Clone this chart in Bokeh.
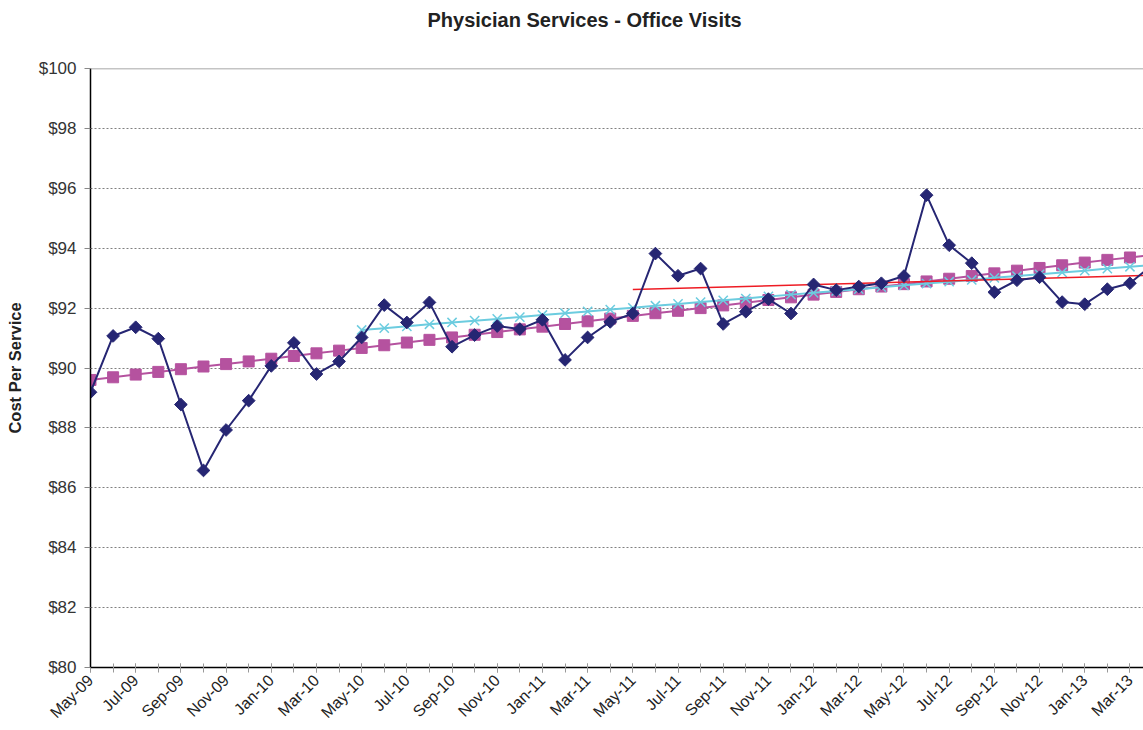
import math
from bokeh.plotting import figure
from bokeh.models import Range1d, FixedTicker, Span, Title
from bokeh.embed import file_html
from bokeh.resources import INLINE

months = ["May-09", "Jun-09", "Jul-09", "Aug-09", "Sep-09", "Oct-09", "Nov-09", "Dec-09",
          "Jan-10", "Feb-10", "Mar-10", "Apr-10", "May-10", "Jun-10", "Jul-10", "Aug-10",
          "Sep-10", "Oct-10", "Nov-10", "Dec-10", "Jan-11", "Feb-11", "Mar-11", "Apr-11",
          "May-11", "Jun-11", "Jul-11", "Aug-11", "Sep-11", "Oct-11", "Nov-11", "Dec-11",
          "Jan-12", "Feb-12", "Mar-12", "Apr-12", "May-12", "Jun-12", "Jul-12", "Aug-12",
          "Sep-12", "Oct-12", "Nov-12", "Dec-12", "Jan-13", "Feb-13", "Mar-13", "Apr-13"]

cost = [89.19, 91.07, 91.36, 90.98, 88.78, 86.58, 87.93, 88.91,
        90.07, 90.84, 89.80, 90.22, 91.02, 92.10, 91.52, 92.19,
        90.71, 91.10, 91.40, 91.30, 91.61, 90.27, 91.02, 91.54,
        91.82, 93.82, 93.08, 93.32, 91.47, 91.88, 92.30, 91.82,
        92.79, 92.60, 92.72, 92.83, 93.07, 95.77, 94.10, 93.50,
        92.53, 92.93, 93.03, 92.20, 92.13, 92.63, 92.83, 93.45]

trend_all = [89.60, 89.69, 89.78, 89.87, 89.96, 90.05, 90.13, 90.22,
             90.31, 90.40, 90.49, 90.58, 90.67, 90.76, 90.85, 90.94,
             91.02, 91.11, 91.20, 91.29, 91.38, 91.47, 91.56, 91.65,
             91.74, 91.83, 91.91, 92.00, 92.09, 92.18, 92.27, 92.36,
             92.45, 92.54, 92.63, 92.72, 92.80, 92.89, 92.98, 93.07,
             93.16, 93.25, 93.34, 93.43, 93.52, 93.61, 93.69, 93.78]

trend_3yr_months = months[12:]
trend_3yr = [91.27, 91.33, 91.39, 91.46, 91.52, 91.58, 91.64, 91.70,
             91.77, 91.83, 91.89, 91.95, 92.01, 92.08, 92.14, 92.20,
             92.26, 92.32, 92.39, 92.45, 92.51, 92.57, 92.63, 92.70,
             92.76, 92.82, 92.88, 92.94, 93.01, 93.07, 93.13, 93.19,
             93.25, 93.32, 93.38, 93.44]

trend_2yr_months = ["May-11", "Apr-13"]
trend_2yr = [92.62, 93.10]

y_ticks = [80, 82, 84, 86, 88, 90, 92, 94, 96, 98, 100]

idx = {m: i for i, m in enumerate(months)}
x_all = [idx[m] for m in months]
x_3yr = [idx[m] for m in trend_3yr_months]
x_2yr = [idx[m] for m in trend_2yr_months]

NAVY = "#262673"
MAGENTA = "#B5529F"
CYAN = "#6CCCDF"
RED = "#EE1C24"
FONT = "Liberation Sans"

p = figure(width=1143, height=730, output_backend="svg", toolbar_location=None,
           x_range=Range1d(0, 46.6), y_range=Range1d(80, 100),
           min_border_left=90, min_border_right=0, min_border_top=68, min_border_bottom=62)
p.title = None

spacer = Title(text=" ", text_font=FONT, text_font_size="20px", standoff=14)
p.add_layout(spacer, "above")
title = Title(text="Physician Services - Office Visits", text_font=FONT,
              text_font_size="20px", text_font_style="bold", text_color="#222222",
              align="left", offset=337, standoff=0)
p.add_layout(title, "above")
p.outline_line_color = None

# grid
p.xgrid.grid_line_color = None
p.ygrid.ticker = FixedTicker(ticks=y_ticks)
p.ygrid.grid_line_color = "#808080"
p.ygrid.grid_line_dash = "2 2"
p.ygrid.grid_line_width = 1
p.add_layout(Span(location=100, dimension="width", line_color="#8a8a8a", line_width=1.5))

# y axis
yax = p.yaxis[0]
yax.ticker = FixedTicker(ticks=y_ticks)
yax.major_label_overrides = {t: f"${t}" for t in y_ticks}
yax.axis_label = "Cost Per Service"
yax.axis_label_text_font = FONT
yax.axis_label_text_font_size = "16.5px"
yax.axis_label_text_font_style = "bold"
yax.axis_label_text_color = "#222222"
yax.axis_label_standoff = 12
yax.major_label_text_font = FONT
yax.major_label_text_font_size = "17px"
yax.major_label_text_color = "#333333"
yax.major_label_standoff = 8
yax.major_tick_in = 0
yax.major_tick_out = 6
yax.major_tick_line_color = "#888888"
yax.minor_tick_line_color = None
yax.axis_line_color = "black"
yax.axis_line_width = 1.5

# x axis
xax = p.xaxis[0]
xax.ticker = FixedTicker(ticks=x_all[::2], minor_ticks=x_all)
xax.major_label_overrides = {i: months[i] for i in x_all[::2]}
xax.major_label_orientation = 0.785398
xax.major_label_text_font = FONT
xax.major_label_text_font_size = "16px"
xax.major_label_text_color = "#222222"
xax.major_label_standoff = 5
xax.major_tick_in = 4
xax.major_tick_out = 5
xax.minor_tick_in = 4
xax.minor_tick_out = 5
xax.major_tick_line_color = "#999999"
xax.minor_tick_line_color = "#999999"
xax.axis_line_color = "black"
xax.axis_line_width = 1.5

# series
p.line(x_all, trend_all, line_color=MAGENTA, line_width=2)
p.scatter(x_all, trend_all, marker="square", size=11, fill_color=MAGENTA, line_color=MAGENTA)

p.line(x_3yr, trend_3yr, line_color=CYAN, line_width=2)
p.scatter(x_3yr, trend_3yr, marker="x", size=13, line_color=CYAN, line_width=1.5)

p.line(x_2yr, trend_2yr, line_color=RED, line_width=1.5)

p.line(x_all, cost, line_color=NAVY, line_width=2)
p.scatter(x_all, cost, marker="square", angle=math.pi / 4, size=9,
          fill_color=NAVY, line_color=NAVY)

open("out.html", "w").write(file_html(p, INLINE))
